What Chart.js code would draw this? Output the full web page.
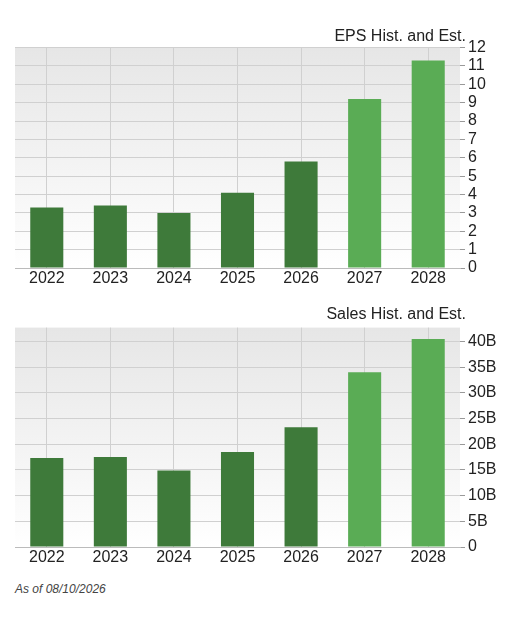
<!DOCTYPE html><html><head><meta charset="utf-8">
<script src="https://cdn.jsdelivr.net/npm/chart.js@4"></script>
<style>body{margin:0;background:#fff;font-family:"Liberation Sans",Arial,sans-serif;}
.t{position:absolute;right:51px;font-size:16px;color:#222}
.c{position:absolute;left:0;width:500px}
#asof{position:absolute;left:15px;top:582px;font-size:12px;font-style:italic;color:#444}</style></head><body>
<div class="c" style="top:35px;height:255px"><canvas id="c1"></canvas></div>
<div class="c" style="top:315px;height:254px"><canvas id="c2"></canvas></div>
<div class="t" style="top:27px">EPS Hist. and Est.</div>
<div class="t" style="top:305px">Sales Hist. and Est.</div>
<div id="asof">As of 08/10/2026</div>
<script>
const years=["2022","2023","2024","2025","2026","2027","2028"];
const eps=[3.3,3.4,3.0,4.1,5.8,9.2,11.3];
const sales=[17.3,17.5,14.9,18.5,23.3,34.0,40.5];
const epsTicks=[0,1,2,3,4,5,6,7,8,9,10,11,12];
const salesTicks=[0,5,10,15,20,25,30,35,40];
const colors=years.map((y,i)=>i<5?"#3e7a3a":"#5aac55");
const bg={id:'bg',beforeDraw(ch){const a=ch.chartArea,c=ch.ctx;const g=c.createLinearGradient(0,a.top,0,a.bottom);g.addColorStop(0,'#e6e6e6');g.addColorStop(1,'#ffffff');c.save();c.fillStyle=g;c.fillRect(a.left,a.top,a.right-a.left,a.bottom-a.top);c.restore();}};
function mk(id,data,max,ticks,fmt){
new Chart(document.getElementById(id),{type:'bar',plugins:[bg],
data:{labels:years,datasets:[{data:data,backgroundColor:colors,barPercentage:0.52,categoryPercentage:1}]},
options:{responsive:true,maintainAspectRatio:false,animation:false,layout:{padding:{top:0,left:15}},
plugins:{legend:{display:false},tooltip:{enabled:false}},
scales:{x:{offset:true,grid:{offset:false,color:'#d0d0d0',drawTicks:false},border:{color:'#bbb'},
ticks:{color:'#222',font:{size:16,family:'Liberation Sans'},padding:1},afterFit(s){s.height=22;}},
y:{position:'right',min:0,max:max,afterBuildTicks(s){s.ticks=ticks.map(v=>({value:v}));},
grid:{color:'#d0d0d0',tickLength:5,tickColor:'#999'},border:{display:false},
ticks:{autoSkip:false,color:'#222',font:{size:16,family:'Liberation Sans'},padding:3,callback:fmt},afterFit(s){s.width=40;}}}}});}
mk('c1',eps,12,epsTicks,v=>String(v));
mk('c2',sales,42.7,salesTicks,v=>v===0?'0':v+'B');
</script></body></html>
